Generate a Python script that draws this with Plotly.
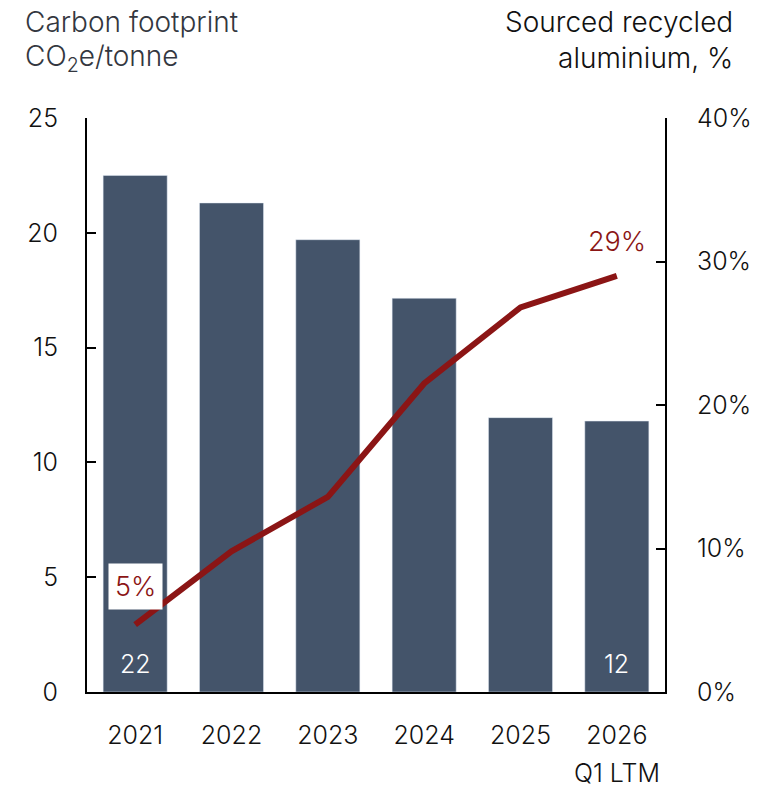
import plotly.graph_objects as go

categories = ["2021", "2022", "2023", "2024", "2025", "2026"]
tick_labels = ["2021", "2022", "2023", "2024", "2025", "2026"]
tick_sublabels = ["", "", "", "", "", "Q1 LTM"]
carbon_footprint = [22.5, 21.3, 19.7, 17.15, 11.95, 11.8]
bar_labels = ["22", "", "", "", "", "12"]
recycled_pct = [4.7, 9.8, 13.6, 21.5, 26.8, 29.0]
line_labels = ["5%", "", "", "", "", "29%"]
left_ticks = [0, 5, 10, 15, 20, 25]
right_ticks = [0, 10, 20, 30, 40]
right_tick_text = ["0%", "10%", "20%", "30%", "40%"]

FONT = "Inter"
W = 300
BAR_COLOR = "#44546A"
LINE_COLOR = "#8B1515"
TXT = "#111111"

fig = go.Figure()
fig.add_trace(go.Bar(
    x=categories, y=carbon_footprint, marker_color=BAR_COLOR,
    width=0.665, hoverinfo="skip", showlegend=False,
))
fig.add_trace(go.Scatter(
    x=categories, y=recycled_pct, yaxis="y2", mode="lines",
    line=dict(color=LINE_COLOR, width=6),
    showlegend=False, hoverinfo="skip",
))

annots = []
# bar value labels near base
for i, t in enumerate(bar_labels):
    if t:
        annots.append(dict(x=i, y=0, xref="x", yref="y", text=t, showarrow=False,
                           yanchor="middle", yshift=28,
                           font=dict(color="white", size=25, family=FONT, weight=W)))
# line value labels
for i, t in enumerate(line_labels):
    if not t:
        continue
    if i == 0:
        annots.append(dict(x=i, y=recycled_pct[i], xref="x", yref="y2",
                           text=t, showarrow=False, yshift=38,
                           font=dict(color=LINE_COLOR, size=27, family=FONT, weight=W),
                           bgcolor="white", borderpad=6))
    else:
        annots.append(dict(x=i, y=recycled_pct[i], xref="x", yref="y2",
                           text=t, showarrow=False, yshift=34,
                           font=dict(color=LINE_COLOR, size=27, family=FONT, weight=W)))
# second line of category labels
for i, t in enumerate(tick_sublabels):
    if t:
        annots.append(dict(x=i, y=0, xref="x", yref="paper", text=t, showarrow=False,
                           yanchor="middle", yshift=-81, borderpad=0, borderwidth=0,
                           font=dict(color=TXT, size=25, family=FONT, weight=W)))
# axis titles (each line separately)
left_title = ["Carbon footprint", "CO<sub>2</sub>e/tonne"]
right_title = ["Sourced recycled", "aluminium, %"]
for i, (lt, rt) in enumerate(zip(left_title, right_title)):
    ys = 96 - 36 * i
    annots.append(dict(text=lt, showarrow=False, xref="paper", yref="paper",
                       x=0, y=1, xshift=-64, yshift=ys, xanchor="left",
                       yanchor="middle",
                       font=dict(size=28, family=FONT, weight=W, color="#333740")))
    annots.append(dict(text=rt, showarrow=False, xref="paper", yref="paper",
                       x=1, y=1, xshift=70, yshift=ys, xanchor="right",
                       yanchor="middle",
                       font=dict(size=28, family=FONT, weight=W, color=TXT)))

fig.update_layout(
    width=782, height=788,
    margin=dict(l=87, r=117, t=118, b=96, pad=0),
    paper_bgcolor="white", plot_bgcolor="white",
    annotations=annots,
    font=dict(family=FONT, size=25, color=TXT, weight=W),
    xaxis=dict(
        type="category",
        tickmode="array", tickvals=categories, ticktext=tick_labels,
        showline=True, linecolor="black", linewidth=2,
        ticks="", showgrid=False, range=[-0.5, 5.5], automargin=False,
        tickfont=dict(size=25, family=FONT, color=TXT, weight=W),
        ticklabelstandoff=20,
    ),
    yaxis=dict(
        range=[0, 25], tickmode="array", tickvals=left_ticks,
        showline=True, linecolor="black", linewidth=2,
        ticks="inside", ticklen=9, tickwidth=2, tickcolor="black",
        showgrid=False, zeroline=False, automargin=False,
        tickfont=dict(size=25, family=FONT, color=TXT, weight=W),
        ticklabelstandoff=22,
    ),
    yaxis2=dict(
        overlaying="y", side="right", range=[0, 40],
        tickmode="array", tickvals=right_ticks, ticktext=right_tick_text,
        showline=True, linecolor="black", linewidth=2,
        ticks="inside", ticklen=9, tickwidth=2, tickcolor="black",
        showgrid=False, zeroline=False, automargin=False,
        tickfont=dict(size=25, family=FONT, color=TXT, weight=W),
        ticklabelstandoff=25,
    ),
)

fig.write_html("out.html", config={"displayModeBar": False},
               post_script="document.body.style.margin='0';")
